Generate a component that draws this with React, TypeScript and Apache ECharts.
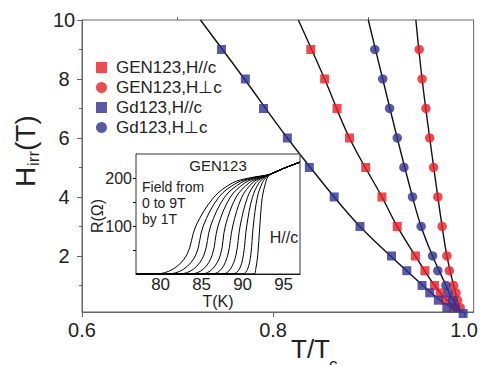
import React, { useEffect, useRef } from 'react';
import * as echarts from 'echarts';

const FONT = '"Liberation Sans", Arial, Helvetica, sans-serif';
const RED = '#ed1c24';
const BLUE = '#2e3192';

// Main plot: measured irreversibility field H (T) vs reduced temperature T/Tc
const fieldH = [9, 8, 7, 6, 5, 4, 3, 2, 1.5, 1, 0.75, 0.5, 0.25];
const gdParH = [9, 8, 7, 6, 5, 4, 3, 2, 1.5, 1, 0.75, 0.5, 0.25, 0.05];
const gdParT = [0.746, 0.771, 0.79, 0.815, 0.838, 0.864, 0.891, 0.924, 0.94, 0.956, 0.964, 0.973, 0.982, 0.999];
const genParT = [0.8395, 0.854, 0.867, 0.88, 0.897, 0.914, 0.93, 0.949, 0.959, 0.969, 0.975, 0.981, 0.989];
const gdPerpT = [0.9065, 0.9148, 0.922, 0.93, 0.937, 0.946, 0.955, 0.967, 0.9725, 0.981, 0.9835, 0.988, 0.991];
const genPerpT = [0.953, 0.956, 0.96, 0.964, 0.968, 0.9725, 0.977, 0.982, 0.9845, 0.989, 0.9915, 0.993, 0.996];

// Fit curves
const fitH = [10, 8, 6, 4, 3, 2, 1, 0.5, 0.1];
const gdParFitT = [0.724, 0.77, 0.815, 0.864, 0.891, 0.923, 0.957, 0.975, 0.996];
const genParFitT = [0.8265, 0.854, 0.88, 0.914, 0.93, 0.949, 0.969, 0.982, 0.996];
const gdPerpFitT = [0.8997, 0.9148, 0.93, 0.946, 0.955, 0.967, 0.981, 0.988, 0.996];
const genPerpFitT = [0.9495, 0.956, 0.964, 0.9725, 0.977, 0.982, 0.989, 0.993, 0.996];

const seriesNames = ['GEN123,H//c', 'GEN123,H\u22a5c', 'Gd123,H//c', 'Gd123,H\u22a5c'];

// Inset: R(T) curves for H//c, 0..9 T
const insetFields = [0, 1, 2, 3, 4, 5, 6, 7, 8, 9];
const insetLevelsR = [0, 10, 40, 100, 160, 190, 200];
const insetTransT = [
  [91.4, 91.6, 91.85, 92.1, 92.4, 92.8, 93.0],
  [90.0, 90.6, 91.0, 91.3, 91.8, 92.4, 92.8],
  [88.8, 89.6, 90.1, 90.5, 91.2, 92.0, 92.6],
  [87.6, 88.5, 89.2, 89.7, 90.6, 91.6, 92.4],
  [86.3, 87.4, 88.2, 88.8, 89.9, 91.2, 92.2],
  [85.0, 86.3, 87.3, 87.9, 89.2, 90.8, 92.0],
  [83.6, 85.2, 86.3, 87.0, 88.5, 90.3, 91.7],
  [82.2, 84.0, 85.3, 86.1, 87.8, 89.8, 91.4],
  [80.8, 82.8, 84.3, 85.2, 87.1, 89.3, 91.1],
  [79.3, 81.5, 83.2, 84.3, 86.5, 88.8, 90.8],
];
const normalT = [93.4, 95, 97];
const normalR = [208, 220, 233];
const insetStartT = 77;
const arrowFrom = [92.6, 46];
const arrowTo = [82.7, 93];

const zip = (xs: number[], ys: number[]) => xs.map((x, i) => [x, ys[i]]);

function buildOption() {
  const scatterBase = {
    type: 'scatter',
    xAxisIndex: 0,
    yAxisIndex: 0,
    clip: false,
    z: 5,
  };
  const fitBase = {
    type: 'line',
    xAxisIndex: 0,
    yAxisIndex: 0,
    smooth: 0.4,
    showSymbol: false,
    symbol: 'none',
    lineStyle: { color: '#111', width: 1.4 },
    z: 4,
    silent: true,
  };
  const insetCurves = insetFields.map((f, i) => ({
    type: 'line',
    name: 'R' + f,
    xAxisIndex: 1,
    yAxisIndex: 2,
    smooth: 0.35,
    showSymbol: false,
    symbol: 'none',
    lineStyle: { color: '#000', width: 1 },
    z: 10,
    data: [[insetStartT, 0], ...zip(insetTransT[i], insetLevelsR), ...zip(normalT, normalR)],
  }));

  const labelStyle = { fontFamily: FONT, color: '#222' };

  return {
    animation: false,
    backgroundColor: '#fff',
    textStyle: { fontFamily: FONT },
    grid: [
      { left: 82, top: 20, right: 1, bottom: 53, show: true, borderColor: '#666', borderWidth: 1, z: 0 },
      { left: 136, top: 154, width: 164, height: 120, show: true, borderColor: '#333', borderWidth: 1, backgroundColor: '#fff', z: 8 },
    ],
    legend: {
      orient: 'vertical',
      left: 91,
      top: 54,
      itemWidth: 11,
      itemHeight: 11,
      itemGap: 3,
      data: seriesNames,
      textStyle: { ...labelStyle, fontSize: 17, padding: [0, 0, 0, 4] },
    },
    xAxis: [
      {
        type: 'value', gridIndex: 0, min: 0.6, max: 1.01,
        splitLine: { show: false },
        axisLine: { show: true, lineStyle: { color: '#666' } },
        axisTick: { show: true, customValues: [0.6, 0.8, 1.0], length: 5, lineStyle: { color: '#666' } },
        axisLabel: { customValues: [0.6, 0.8, 1.0], formatter: (v: number) => v.toFixed(1), fontSize: 20, margin: 8, ...labelStyle },
      },
      {
        type: 'value', gridIndex: 1, min: 77, max: 97,
        splitLine: { show: false },
        axisLine: { show: true, lineStyle: { color: '#000' } },
        axisTick: { show: true, inside: true, customValues: [80, 85, 90, 95], length: 3, lineStyle: { color: '#000' } },
        axisLabel: { customValues: [80, 85, 90, 95], fontSize: 17, margin: 2, ...labelStyle },
      },
      {
        type: 'value', gridIndex: 0, min: 0.6, max: 1.01,
        splitLine: { show: false },
        axisLine: { show: false },
        axisTick: { show: true, customValues: [0.7, 0.9], length: 3, lineStyle: { color: '#666' } },
        axisLabel: { show: false },
      },
    ],
    yAxis: [
      {
        type: 'value', gridIndex: 0, min: 0.1, max: 10,
        splitLine: { show: false },
        axisLine: { show: true, lineStyle: { color: '#666' } },
        axisTick: { show: true, customValues: [2, 4, 6, 8, 10], length: 5, lineStyle: { color: '#666' } },
        axisLabel: { customValues: [2, 4, 6, 8, 10], fontSize: 20, align: 'center', margin: 18, ...labelStyle },
      },
      {
        type: 'value', gridIndex: 0, min: 0.1, max: 10, position: 'left',
        splitLine: { show: false },
        axisLine: { show: false },
        axisTick: { show: true, customValues: [1, 3, 5, 7, 9], length: 3, lineStyle: { color: '#666' } },
        axisLabel: { show: false },
      },
      {
        type: 'value', gridIndex: 1, min: 0, max: 250,
        splitLine: { show: false },
        axisLine: { show: true, lineStyle: { color: '#000' } },
        axisTick: { show: true, customValues: [50, 100, 150, 200], length: 3, lineStyle: { color: '#000' } },
        axisLabel: { customValues: [100, 200], fontSize: 16, margin: 4, ...labelStyle },
      },
    ],
    series: [
      { ...fitBase, name: 'fitGdPar', data: zip(gdParFitT, fitH) },
      { ...fitBase, name: 'fitGenPar', data: zip(genParFitT, fitH) },
      { ...fitBase, name: 'fitGdPerp', data: zip(gdPerpFitT, fitH) },
      { ...fitBase, name: 'fitGenPerp', data: zip(genPerpFitT, fitH) },
      { ...scatterBase, name: seriesNames[0], symbol: 'rect', symbolSize: 9, itemStyle: { color: RED }, data: zip(genParT, fieldH) },
      { ...scatterBase, name: seriesNames[1], symbol: 'circle', symbolSize: 9.5, itemStyle: { color: RED }, data: zip(genPerpT, fieldH) },
      { ...scatterBase, name: seriesNames[2], symbol: 'rect', symbolSize: 9, itemStyle: { color: BLUE }, data: zip(gdParT, gdParH) },
      { ...scatterBase, name: seriesNames[3], symbol: 'circle', symbolSize: 9.5, itemStyle: { color: BLUE }, data: zip(gdPerpT, fieldH) },
      ...insetCurves,
      {
        type: 'line', name: 'arrow', xAxisIndex: 1, yAxisIndex: 2, data: [], z: 11,
        markLine: {
          silent: true, animation: false,
          symbol: ['none', 'arrow'], symbolSize: [0, 8],
          label: { show: false },
          lineStyle: { color: '#000', width: 1, type: 'solid' },
          data: [[{ coord: arrowFrom }, { coord: arrowTo }]],
        },
      },
    ],
    graphic: [
      {
        type: 'group', x: 25, y: 151, rotation: Math.PI / 2, z: 20,
        children: [
          { type: 'text', x: -36, y: 0, style: { text: 'H', fontSize: 28, fontFamily: FONT, fill: '#222', align: 'left', verticalAlign: 'middle' } },
          { type: 'text', x: -15, y: 8, style: { text: 'irr', fontSize: 17, fontFamily: FONT, fill: '#222', align: 'left', verticalAlign: 'middle' } },
          { type: 'text', x: 0, y: 0, style: { text: '(T)', fontSize: 28, fontFamily: FONT, fill: '#222', align: 'left', verticalAlign: 'middle' } },
        ],
      },
      { type: 'text', x: 291, y: 349, z: 20, style: { text: 'T/T', fontSize: 26, fontFamily: FONT, fill: '#222', align: 'left', verticalAlign: 'middle' } },
      { type: 'text', x: 329, y: 364, z: 20, style: { text: 'c', fontSize: 17, fontFamily: FONT, fill: '#222', align: 'left', verticalAlign: 'middle' } },
      { type: 'text', x: 218, y: 165, z: 20, style: { text: 'GEN123', fontSize: 15, fontFamily: FONT, fill: '#222', align: 'center', verticalAlign: 'middle' } },
      { type: 'text', x: 142, y: 187, z: 20, style: { text: 'Field from', fontSize: 14, fontFamily: FONT, fill: '#222', align: 'left', verticalAlign: 'middle' } },
      { type: 'text', x: 142, y: 203, z: 20, style: { text: '0 to 9T', fontSize: 14, fontFamily: FONT, fill: '#222', align: 'left', verticalAlign: 'middle' } },
      { type: 'text', x: 142, y: 219, z: 20, style: { text: 'by 1T', fontSize: 14, fontFamily: FONT, fill: '#222', align: 'left', verticalAlign: 'middle' } },
      { type: 'text', x: 284, y: 237, z: 20, style: { text: 'H//c', fontSize: 16, fontFamily: FONT, fill: '#222', align: 'center', verticalAlign: 'middle' } },
      { type: 'text', x: 218, y: 301, z: 20, style: { text: 'T(K)', fontSize: 16, fontFamily: FONT, fill: '#222', align: 'center', verticalAlign: 'middle' } },
      {
        type: 'group', x: 97, y: 216, rotation: Math.PI / 2, z: 20,
        children: [
          { type: 'text', x: 0, y: 0, style: { text: 'R(\u03a9)', fontSize: 16, fontFamily: FONT, fill: '#222', align: 'center', verticalAlign: 'middle' } },
        ],
      },
    ],
  };
}

export default function App() {
  const ref = useRef<HTMLDivElement>(null);
  useEffect(() => {
    if (!ref.current) return;
    const chart = echarts.init(ref.current, null, { renderer: 'svg' });
    chart.setOption(buildOption() as any);
    return () => chart.dispose();
  }, []);
  return (
    <div
      ref={ref}
      style={{ position: 'fixed', left: 0, top: 0, width: 481, height: 365, background: '#fff' }}
    />
  );
}
